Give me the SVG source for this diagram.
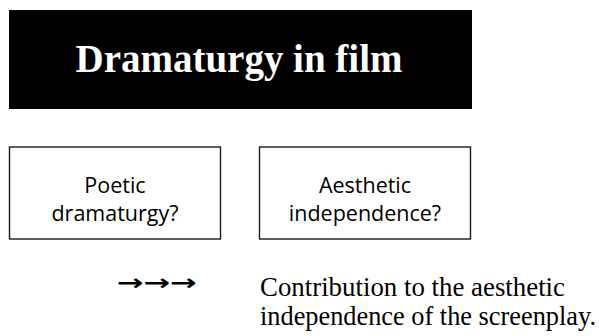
<svg xmlns="http://www.w3.org/2000/svg" width="599" height="336" viewBox="0 0 599 336">
<style>
.box{fill:#fff;stroke:#1a1a1a;stroke-width:1.4}
.lbl{font-family:"Open Sans","DejaVu Sans",sans-serif;font-size:21.5px;fill:#000;text-anchor:middle}
.serif{font-family:"Liberation Serif","Times New Roman",serif;fill:#000}
</style>
<rect width="599" height="336" fill="#fff"/>
<g id="title">
<rect x="9" y="10" width="463" height="99" fill="#000"/>
<text x="239" y="72" class="serif" style="fill:#fff;font-weight:bold;font-size:40px" text-anchor="middle" textLength="327" lengthAdjust="spacingAndGlyphs">Dramaturgy in film</text>
</g>
<g id="node-poetic">
<rect class="box" x="9.5" y="147" width="211" height="92"/>
<text class="lbl" x="115" y="193">Poetic</text>
<text class="lbl" x="115" y="221">dramaturgy?</text>
</g>
<g id="node-aesthetic">
<rect class="box" x="259.5" y="147" width="211" height="92"/>
<text class="lbl" x="365" y="193">Aesthetic</text>
<text class="lbl" x="365" y="221">independence?</text>
</g>
<g id="connectors"></g>
<g id="legend">
<text x="117" y="290" style="font-family:'DejaVu Sans',sans-serif;font-size:22px;font-weight:bold" textLength="80" lengthAdjust="spacingAndGlyphs">→→→</text>
<text class="serif" x="260" y="296" style="font-size:28px" textLength="305" lengthAdjust="spacingAndGlyphs">Contribution to the aesthetic</text>
<text class="serif" x="260" y="325" style="font-size:28px" textLength="336" lengthAdjust="spacingAndGlyphs">independence of the screenplay.</text>
</g>
</svg>
